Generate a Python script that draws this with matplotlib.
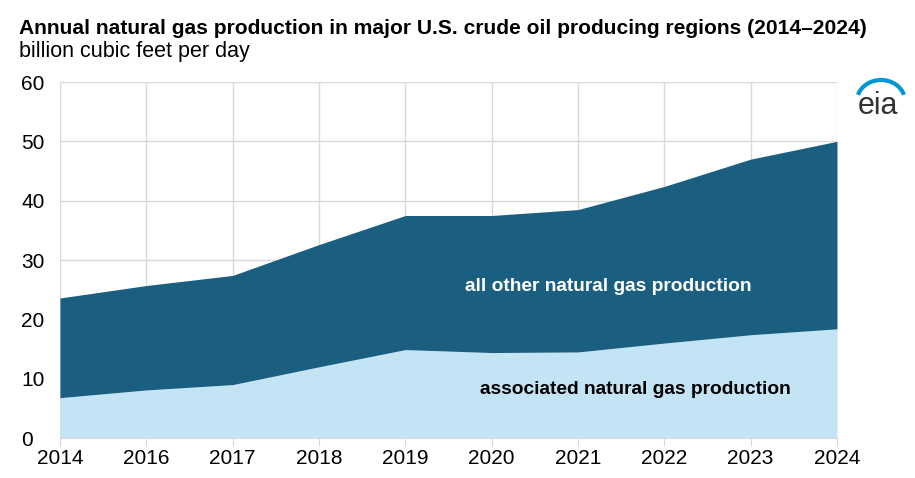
import matplotlib.pyplot as plt
import numpy as np
from matplotlib.patches import Arc

# tick labels as printed on the chart (one per data point)
years = ["2014", "2016", "2017", "2018", "2019", "2020", "2021", "2022", "2023", "2024"]
# billion cubic feet per day
associated = [6.8, 8.1, 9.0, 12.0, 14.9, 14.4, 14.5, 16.0, 17.4, 18.4]
total = [23.6, 25.7, 27.4, 32.6, 37.5, 37.5, 38.5, 42.4, 47.0, 50.0]

DARK = "#1a5e80"
LIGHT = "#c3e4f5"
GRID = "#d9d9d9"

plt.rcParams["font.family"] = ["Liberation Sans", "DejaVu Sans"]

fig = plt.figure(figsize=(9.15, 4.78), dpi=100)
ax = fig.add_axes([60 / 915, 1 - 438 / 478, 777 / 915, 356 / 478])

x = np.arange(len(years))
ax.fill_between(x, 0, associated, color=LIGHT, linewidth=0, zorder=2)
ax.fill_between(x, associated, total, color=DARK, linewidth=0, zorder=2)

ax.set_xlim(0, len(years) - 1)
ax.set_ylim(0, 60)
ax.set_xticks(x)
ax.set_xticklabels(years)
ax.set_yticks(range(0, 61, 10))
ax.grid(True, color=GRID, linewidth=1, zorder=0)
ax.set_axisbelow(True)
for side in ["top", "right", "left"]:
    ax.spines[side].set_visible(False)
ax.spines["bottom"].set_color(GRID)
ax.tick_params(axis="x", length=6, color=GRID, labelsize=15, pad=2)
ax.tick_params(axis="y", length=0, labelsize=15, pad=28)
for lbl in ax.get_yticklabels():
    lbl.set_horizontalalignment("left")

ax.text(6.35, 25.6, "all other natural gas production", color="white",
        fontsize=13.8, fontweight="bold", ha="center", va="center", zorder=3)
ax.text(6.66, 8.2, "associated natural gas production", color="black",
        fontsize=13.8, fontweight="bold", ha="center", va="center", zorder=3)

fig.text(19 / 915, 1 - 28 / 478,
         "Annual natural gas production in major U.S. crude oil producing regions (2014\u20132024)",
         fontsize=15.1, fontweight="bold", va="center", ha="left")
fig.text(19 / 915, 1 - 52 / 478, "billion cubic feet per day", fontsize=15.5,
         va="center", ha="left")

# eia logo, drawn in pixel units
logo = fig.add_axes([840 / 915, 1 - 130 / 478, 75 / 915, 60 / 478])
logo.set_xlim(840, 915)
logo.set_ylim(130, 70)
logo.axis("off")
logo.text(878, 106, "eia", fontsize=22, color="#333333", ha="center", va="center")
logo.add_patch(Arc((881, 101), 48, 42, theta1=195, theta2=345, color="#0096d6", linewidth=3))

fig.savefig("out.png", dpi=100)
